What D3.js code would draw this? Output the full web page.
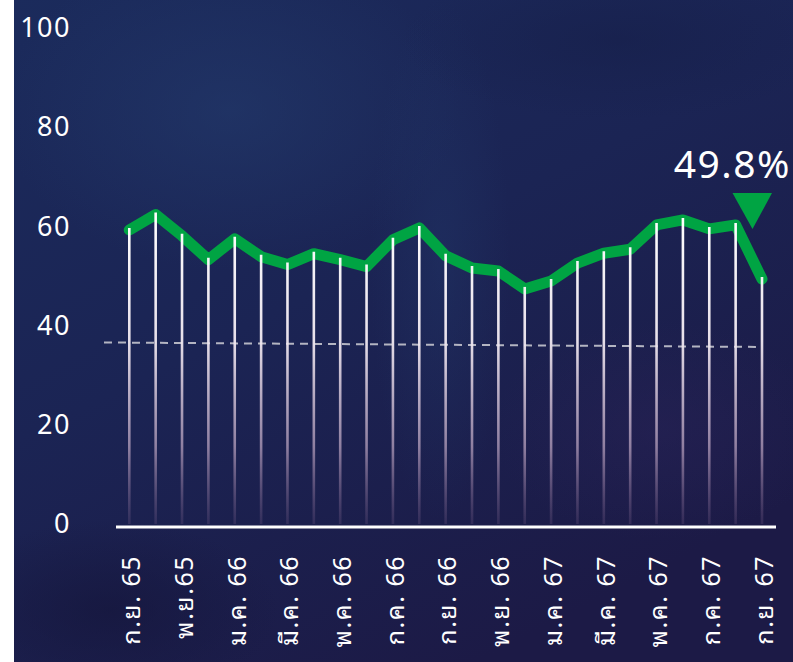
<!DOCTYPE html>
<html>
<head>
<meta charset="utf-8">
<script src="https://cdn.jsdelivr.net/npm/d3@7"></script>
<style>
  html, body { margin: 0; padding: 0; background: #ffffff; }
  svg { display: block; }
</style>
</head>
<body>
<div id="chart"></div>
<script>
// monthly values, ก.ย. 65 -> ก.ย. 67
var months = ["ก.ย. 65", "ต.ค. 65", "พ.ย.65", "ธ.ค. 65", "ม.ค. 66", "ก.พ. 66", "มี.ค. 66", "เม.ย. 66",
    "พ.ค. 66", "มิ.ย. 66", "ก.ค. 66", "ส.ค. 66", "ก.ย. 66", "ต.ค. 66", "พ.ย. 66", "ธ.ค. 66",
    "ม.ค. 67", "ก.พ. 67", "มี.ค. 67", "เม.ย. 67", "พ.ค. 67", "มิ.ย. 67", "ก.ค. 67", "ส.ค. 67", "ก.ย. 67"];
var values = [59.7, 62.8, 58.5, 53.7, 57.9, 54.3, 52.7, 54.9, 53.7, 52.3, 57.7, 60.1, 54.5,
    52.0, 51.4, 47.8, 49.4, 53.0, 55.0, 55.8, 60.7, 61.7, 59.9, 60.7, 49.8];
var yTicks = [0, 20, 40, 60, 80, 100];
// dashed reference line (index position, value)
var refLine = [[-0.96, 36.6], [23.77, 35.7]];
var lastLabel = "49.8%";

var width = 793,
    height = 662;

var svg = d3.select("#chart").append("svg")
    .attr("width", width)
    .attr("height", height);

var defs = svg.append("defs");

var bg = defs.append("linearGradient")
    .attr("id", "bg")
    .attr("x1", 0).attr("y1", 0).attr("x2", 0.6).attr("y2", 1);
bg.append("stop").attr("offset", 0).attr("stop-color", "#1b2b5c");
bg.append("stop").attr("offset", 0.5).attr("stop-color", "#1b2454");
bg.append("stop").attr("offset", 1).attr("stop-color", "#1c1a46");

// soft patches of the blurred photo behind the chart
var patches = [
    {id: "p1", cx: 230, cy: 110, rx: 230, ry: 160, color: "#233a6c", op: 0.6},
    {id: "p2", cx: 440, cy: 260, rx: 70, ry: 260, color: "#22386a", op: 0.4},
    {id: "p3", cx: 660, cy: 430, rx: 170, ry: 110, color: "#2a2358", op: 0.45},
    {id: "p4", cx: 110, cy: 610, rx: 170, ry: 90, color: "#15163c", op: 0.7},
    {id: "p5", cx: 620, cy: 40, rx: 220, ry: 80, color: "#161f4a", op: 0.6}
];

patches.forEach(function(p) {
    var g = defs.append("radialGradient").attr("id", p.id);
    g.append("stop").attr("offset", 0).attr("stop-color", p.color).attr("stop-opacity", p.op);
    g.append("stop").attr("offset", 1).attr("stop-color", p.color).attr("stop-opacity", 0);
});

var glow = defs.append("filter").attr("id", "glow")
    .attr("x", "-300%").attr("y", "-10%").attr("width", "700%").attr("height", "120%");
glow.append("feGaussianBlur").attr("stdDeviation", 1.6);

var x = d3.scaleLinear().domain([0, months.length - 1]).range([129.3, 762]);
var y = d3.scaleLinear().domain([0, 100]).range([524, 28]);

var stem = defs.append("linearGradient")
    .attr("id", "stem")
    .attr("gradientUnits", "userSpaceOnUse")
    .attr("x1", 0).attr("x2", 0)
    .attr("y1", y(62)).attr("y2", y(0));
stem.append("stop").attr("offset", 0).attr("stop-color", "#ffffff").attr("stop-opacity", 1);
stem.append("stop").attr("offset", 0.4).attr("stop-color", "#f2eaf2").attr("stop-opacity", 0.95);
stem.append("stop").attr("offset", 0.75).attr("stop-color", "#c0a8c4").attr("stop-opacity", 0.7);
stem.append("stop").attr("offset", 1).attr("stop-color", "#8a6a94").attr("stop-opacity", 0.2);

// background
svg.append("rect")
    .attr("width", width).attr("height", height)
    .attr("fill", "url(#bg)");

svg.append("g").selectAll("ellipse")
    .data(patches)
    .enter().append("ellipse")
    .attr("cx", function(d) { return d.cx; })
    .attr("cy", function(d) { return d.cy; })
    .attr("rx", function(d) { return d.rx; })
    .attr("ry", function(d) { return d.ry; })
    .attr("fill", function(d) { return "url(#" + d.id + ")"; });

svg.append("rect")
    .attr("width", 14).attr("height", height)
    .attr("fill", "#ffffff");

// y axis labels
var yAxis = svg.append("g")
    .attr("transform", "translate(71,0)")
    .call(d3.axisLeft(y).tickValues(yTicks).tickSize(0).tickPadding(0));
yAxis.select(".domain").remove();
yAxis.selectAll("text")
    .attr("fill", "#ffffff")
    .style("font-family", "'Noto Sans', 'Open Sans', sans-serif")
    .style("font-size", "27px")
    .style("letter-spacing", "1.5px");

// dashed reference line
svg.append("path")
    .datum(refLine)
    .attr("d", d3.line().x(function(d) { return x(d[0]); }).y(function(d) { return y(d[1]); }))
    .attr("fill", "none")
    .attr("stroke", "#b4b5c2")
    .attr("stroke-width", 2)
    .attr("stroke-dasharray", "8,6");

// green line
svg.append("path")
    .datum(values)
    .attr("d", d3.line().x(function(d, i) { return x(i); }).y(function(d) { return y(d) + 2; }))
    .attr("fill", "none")
    .attr("stroke", "#00a443")
    .attr("stroke-width", 11)
    .attr("stroke-linejoin", "round")
    .attr("stroke-linecap", "round");

// stems
var stems = svg.append("g");
stems.selectAll("line.glow")
    .data(values)
    .enter().append("line")
    .attr("class", "glow")
    .attr("x1", function(d, i) { return x(i) + 2; })
    .attr("x2", function(d, i) { return x(i) + 2; })
    .attr("y1", function(d) { return y(d) + 30; })
    .attr("y2", y(0) - 10)
    .attr("stroke", "#7a2a5e")
    .attr("stroke-opacity", 0.45)
    .attr("stroke-width", 3)
    .attr("filter", "url(#glow)");

stems.selectAll("line.stem")
    .data(values)
    .enter().append("line")
    .attr("class", "stem")
    .attr("x1", function(d, i) { return x(i); })
    .attr("x2", function(d, i) { return x(i); })
    .attr("y1", function(d) { return y(d); })
    .attr("y2", y(0))
    .attr("stroke", "url(#stem)")
    .attr("stroke-width", 2.6);

// baseline
svg.append("line")
    .attr("x1", 116).attr("x2", 776)
    .attr("y1", y(0) + 3).attr("y2", y(0) + 3)
    .attr("stroke", "#ffffff")
    .attr("stroke-width", 3);

// last value marker
var lastX = x(values.length - 1);
svg.append("path")
    .attr("d", "M" + (lastX - 29.5) + "," + 193 + "L" + (lastX + 10) + "," + 193 + "L" + (lastX - 9.5) + "," + 229 + "Z")
    .attr("fill", "#00a443");

svg.append("text")
    .attr("x", 791)
    .attr("y", 178)
    .attr("text-anchor", "end")
    .attr("fill", "#ffffff")
    .style("font-family", "'Noto Sans', 'Open Sans', sans-serif")
    .style("font-size", "39px")
    .style("letter-spacing", "1.5px")
    .text(lastLabel);

// month labels (every other month)
svg.append("g").selectAll("text")
    .data(months)
    .enter().filter(function(d, i) { return i % 2 === 0; })
    .append("text")
    .attr("transform", function(d, i) { return "translate(" + (x(i * 2) + 2) + ",555) rotate(-90)"; })
    .attr("text-anchor", "end")
    .attr("dy", "0.35em")
    .attr("fill", "#ffffff")
    .style("font-family", "'Noto Sans Thai Looped', 'Noto Sans', 'Noto Sans Thai', sans-serif")
    .style("font-size", "25px")
    .style("letter-spacing", "1.5px")
    .text(function(d) { return d; });
</script>
</body>
</html>
